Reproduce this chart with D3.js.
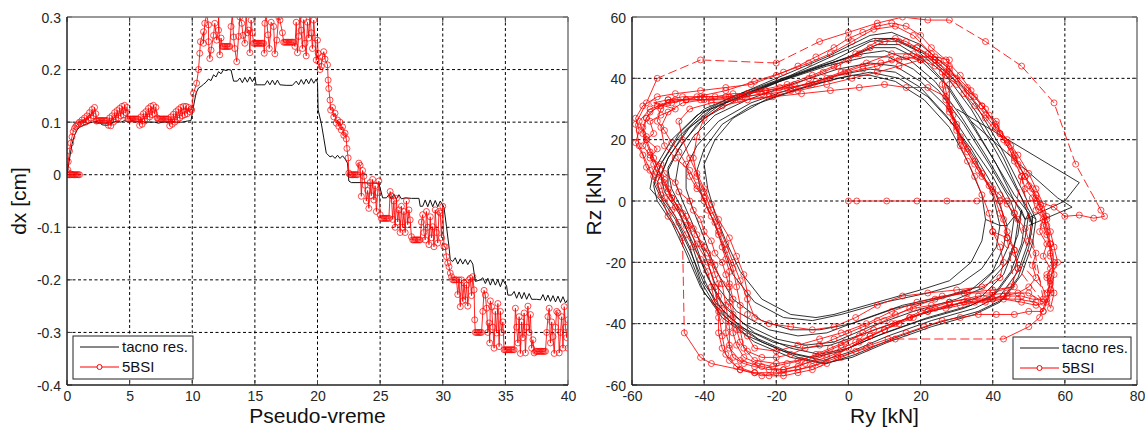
<!DOCTYPE html>
<html><head><meta charset="utf-8">
<script src="https://cdn.jsdelivr.net/npm/d3@7"></script>
<style>
body{margin:0;background:#fff;}
svg{display:block;font-family:"Liberation Sans",Arial,sans-serif;}
</style></head><body>
<svg id="c" width="1145" height="430"></svg>
<script>
// ---------------- DATA ----------------
const seriesNames = ["tacno res.", "5BSI"];
const leftXTicks = [0,5,10,15,20,25,30,35,40];
const leftYTicks = [-0.4,-0.3,-0.2,-0.1,0,0.1,0.2,0.3];
const rightXTicks = [-60,-40,-20,0,20,40,60,80];
const rightYTicks = [-60,-40,-20,0,20,40,60];

// Left panel: tacno res. [pseudo-time, dx]
const tacnoLeft = [[0,0],[0.2,0.03],[0.4,0.058],[0.6,0.075],[0.8,0.085],[1.0,0.09],[1.3,0.094],[1.6,0.097],[2.0,0.1],[2.4,0.101],[2.6,0.099],[2.8,0.095],[3.1,0.094],[3.4,0.095],[3.7,0.1],[4.0,0.102],[4.3,0.1],[4.6,0.103],[4.9,0.1],[5.2,0.103],[5.5,0.1],[5.8,0.102],[6.2,0.1],[6.6,0.1],[7.0,0.1],[7.3,0.098],[7.6,0.1],[8.0,0.1],[8.4,0.101],[8.8,0.1],[9.2,0.1],[9.6,0.102],[9.9,0.103],[10.1,0.13],[10.3,0.155],[10.5,0.165],[10.7,0.168],[10.9,0.172],[11.1,0.176],[11.3,0.182],[11.5,0.179],[11.7,0.19],[11.9,0.186],[12.1,0.196],[12.3,0.192],[12.5,0.2],[12.7,0.198],[12.9,0.2],[13.1,0.199],[13.3,0.178],[13.6,0.178],[13.8,0.184],[14.0,0.175],[14.2,0.185],[14.4,0.176],[14.6,0.186],[14.8,0.177],[15.0,0.186],[15.1,0.171],[15.5,0.171],[15.8,0.171],[16.0,0.179],[16.2,0.171],[16.4,0.18],[16.6,0.171],[16.8,0.18],[17.0,0.171],[17.5,0.17],[18.0,0.17],[18.3,0.178],[18.5,0.171],[18.7,0.181],[18.9,0.172],[19.1,0.182],[19.3,0.173],[19.5,0.183],[19.7,0.174],[19.9,0.182],[20.0,0.175],[20.05,0.123],[20.3,0.098],[20.5,0.07],[20.7,0.041],[21.0,0.034],[21.2,0.036],[21.4,0.031],[21.6,0.037],[21.8,0.031],[22.0,0.036],[22.2,0.03],[22.4,0.022],[22.5,-0.012],[22.7,-0.015],[23.5,-0.015],[24.2,-0.016],[24.9,-0.016],[25.2,-0.044],[25.5,-0.044],[25.7,-0.038],[25.9,-0.046],[26.1,-0.037],[26.3,-0.046],[26.5,-0.038],[26.7,-0.046],[27.0,-0.044],[27.5,-0.045],[28.1,-0.045],[28.2,-0.06],[28.4,-0.06],[28.6,-0.048],[28.8,-0.061],[29.0,-0.048],[29.2,-0.061],[29.4,-0.049],[29.6,-0.061],[29.8,-0.05],[30.0,-0.058],[30.1,-0.062],[30.3,-0.099],[30.5,-0.137],[30.6,-0.162],[30.8,-0.165],[31.0,-0.158],[31.2,-0.17],[31.4,-0.16],[31.6,-0.17],[31.8,-0.161],[32.0,-0.171],[32.2,-0.162],[32.4,-0.17],[32.6,-0.203],[33.0,-0.2],[33.2,-0.196],[33.4,-0.207],[33.6,-0.197],[33.8,-0.21],[34.0,-0.198],[34.2,-0.21],[34.4,-0.2],[34.6,-0.213],[34.8,-0.2],[35.1,-0.212],[35.2,-0.229],[35.5,-0.229],[35.7,-0.222],[35.9,-0.235],[36.1,-0.223],[36.3,-0.236],[36.5,-0.224],[36.7,-0.237],[36.9,-0.226],[37.1,-0.237],[37.5,-0.237],[37.8,-0.238],[38.0,-0.228],[38.2,-0.24],[38.4,-0.229],[38.6,-0.241],[38.8,-0.23],[39.0,-0.242],[39.2,-0.231],[39.4,-0.243],[39.6,-0.232],[39.8,-0.244],[40.0,-0.237]];

// Left panel: 5BSI [pseudo-time, dx], in four load phases
const bsiPhase1 = [[0,0],[0.1,0],[0.2,0],[0.3,0],[0.4,0],[0.5,0],[0.6,0],[0.7,0],[0.8,0],[0.9,0],[1.0,0],[0.05,0.01],[0.1,0.025],[0.2,0.045],[0.3,0.06],[0.4,0.072],[0.5,0.082],[0.6,0.088],[0.7,0.092],[0.8,0.094],[0.9,0.097],[1.0,0.1],[1.1,0.097],[1.2,0.104],[1.3,0.099],[1.4,0.108],[1.5,0.1],[1.6,0.112],[1.7,0.104],[1.8,0.118],[1.9,0.108],[2.0,0.124],[2.1,0.112],[2.2,0.128],[2.3,0.116],[2.35,0.102],[2.4,0.103],[2.5,0.103],[2.6,0.103],[2.7,0.103],[2.8,0.103],[2.9,0.103],[3.0,0.103],[3.1,0.103],[3.2,0.103],[3.3,0.094],[3.4,0.108],[3.5,0.093],[3.6,0.112],[3.7,0.1],[3.8,0.118],[3.9,0.104],[4.0,0.122],[4.1,0.108],[4.2,0.126],[4.3,0.112],[4.4,0.13],[4.5,0.114],[4.6,0.132],[4.7,0.118],[4.8,0.128],[4.85,0.106],[4.9,0.106],[5.0,0.106],[5.1,0.106],[5.2,0.106],[5.3,0.106],[5.4,0.106],[5.5,0.106],[5.6,0.106],[5.7,0.106],[5.8,0.094],[5.9,0.11],[6.0,0.096],[6.1,0.116],[6.2,0.102],[6.3,0.12],[6.4,0.106],[6.5,0.126],[6.6,0.11],[6.7,0.13],[6.8,0.114],[6.9,0.132],[7.0,0.116],[7.1,0.128],[7.2,0.108],[7.3,0.106],[7.4,0.106],[7.5,0.106],[7.6,0.106],[7.7,0.106],[7.8,0.106],[7.9,0.106],[8.0,0.106],[8.1,0.106],[8.2,0.093],[8.3,0.11],[8.4,0.096],[8.5,0.115],[8.6,0.1],[8.7,0.12],[8.8,0.104],[8.9,0.124],[9.0,0.108],[9.1,0.128],[9.2,0.112],[9.3,0.13],[9.4,0.114],[9.5,0.13],[9.6,0.116],[9.7,0.128],[9.8,0.12],[9.9,0.125],[9.95,0.123],[10.1,0.155],[10.35,0.174],[10.5,0.2],[10.6,0.231],[10.65,0.253]];
const bsiPhase2 = [[10.9,0.272],[10.9,0.25],[11.0,0.288],[11.15,0.305],[11.3,0.285],[11.3,0.253],[11.4,0.221],[11.5,0.237],[11.7,0.265],[11.8,0.288],[11.95,0.256],[12.1,0.275],[12.1,0.305],[12.2,0.228],[12.3,0.26],[12.4,0.244],[12.5,0.244],[12.6,0.244],[12.7,0.244],[12.8,0.244],[12.9,0.244],[13.0,0.244],[13.1,0.282],[13.2,0.305],[13.3,0.262],[13.4,0.24],[13.55,0.215],[13.7,0.263],[13.8,0.3],[13.95,0.288],[14.05,0.265],[14.2,0.25],[14.3,0.305],[14.4,0.27],[14.5,0.275],[14.6,0.232],[14.7,0.294],[14.8,0.27],[14.9,0.25],[15.0,0.25],[15.1,0.25],[15.2,0.25],[15.3,0.25],[15.4,0.25],[15.5,0.25],[15.6,0.25],[15.7,0.25],[15.75,0.231],[15.8,0.288],[15.9,0.305],[16.05,0.266],[16.15,0.24],[16.3,0.29],[16.5,0.282],[16.6,0.23],[16.75,0.256],[16.9,0.3],[17.0,0.294],[17.2,0.27],[17.3,0.252],[17.4,0.252],[17.5,0.252],[17.6,0.252],[17.7,0.252],[17.8,0.252],[17.9,0.252],[18.0,0.252],[18.1,0.252],[18.2,0.244],[18.3,0.29],[18.4,0.232],[18.5,0.263],[18.6,0.305],[18.7,0.275],[18.8,0.24],[18.9,0.295],[19.0,0.25],[19.1,0.226],[19.2,0.29],[19.3,0.26],[19.4,0.305],[19.5,0.27],[19.6,0.24],[19.7,0.294],[19.8,0.26],[19.9,0.218],[20.0,0.256]];
const bsiPhase3 = [[20.05,0.231],[20.1,0.215],[20.2,0.2],[20.3,0.206],[20.4,0.225],[20.5,0.234],[20.6,0.22],[20.8,0.209],[20.85,0.18],[20.9,0.164],[21.0,0.142],[21.05,0.123],[21.2,0.128],[21.3,0.11],[21.4,0.117],[21.5,0.098],[21.6,0.104],[21.7,0.092],[21.8,0.1],[21.9,0.085],[22.0,0.091],[22.1,0.075],[22.2,0.079],[22.3,0.068],[22.35,0.05],[22.45,0.032],[22.5,0.003],[22.6,0],[22.7,0],[22.8,0],[22.9,0],[23.0,0],[23.1,0],[23.2,0],[23.3,0.022],[23.4,0.018],[23.5,-0.041],[23.6,0.008],[23.7,-0.003],[23.8,-0.02],[23.9,-0.05],[24.0,-0.03],[24.1,-0.064],[24.2,-0.015],[24.3,-0.04],[24.4,-0.009],[24.5,-0.048],[24.6,-0.021],[24.7,-0.07],[24.8,-0.034],[24.9,-0.012],[25.0,-0.076],[25.1,-0.083],[25.2,-0.083],[25.3,-0.083],[25.4,-0.083],[25.5,-0.083],[25.6,-0.083],[25.7,-0.083],[25.8,-0.032],[25.9,-0.04],[26.0,-0.085],[26.1,-0.05],[26.2,-0.1],[26.3,-0.045],[26.4,-0.09],[26.5,-0.067],[26.6,-0.11],[26.7,-0.06],[26.8,-0.1],[26.9,-0.07],[27.0,-0.11],[27.1,-0.05],[27.2,-0.095],[27.3,-0.067],[27.4,-0.086],[27.5,-0.118],[27.6,-0.124],[27.7,-0.124],[27.8,-0.124],[27.9,-0.124],[28.0,-0.124],[28.1,-0.124],[28.2,-0.124],[28.3,-0.09],[28.4,-0.076],[28.5,-0.11],[28.6,-0.124],[28.7,-0.07],[28.8,-0.1],[28.9,-0.133],[29.0,-0.08],[29.1,-0.12],[29.2,-0.099],[29.3,-0.137],[29.4,-0.067],[29.5,-0.11],[29.6,-0.13],[29.7,-0.07],[29.8,-0.073],[29.9,-0.12],[30.0,-0.06]];
const bsiPhase4 = [[30.1,-0.137],[30.2,-0.137],[30.3,-0.156],[30.4,-0.168],[30.5,-0.175],[30.6,-0.187],[30.7,-0.194],[30.8,-0.2],[30.9,-0.2],[31.0,-0.2],[31.1,-0.2],[31.2,-0.228],[31.3,-0.2],[31.4,-0.251],[31.5,-0.2],[31.6,-0.24],[31.7,-0.206],[31.8,-0.238],[31.9,-0.21],[32.0,-0.25],[32.1,-0.2],[32.2,-0.197],[32.3,-0.23],[32.4,-0.194],[32.5,-0.219],[32.55,-0.276],[32.6,-0.3],[32.7,-0.3],[32.8,-0.3],[32.9,-0.3],[33.0,-0.3],[33.1,-0.3],[33.2,-0.26],[33.3,-0.22],[33.4,-0.229],[33.5,-0.254],[33.6,-0.3],[33.7,-0.282],[33.75,-0.32],[33.8,-0.24],[33.9,-0.251],[34.0,-0.29],[34.1,-0.33],[34.2,-0.26],[34.3,-0.301],[34.4,-0.245],[34.5,-0.327],[34.6,-0.26],[34.7,-0.3],[34.8,-0.28],[34.9,-0.333],[35.0,-0.333],[35.1,-0.333],[35.2,-0.333],[35.3,-0.333],[35.4,-0.333],[35.5,-0.333],[35.6,-0.333],[35.7,-0.333],[35.8,-0.254],[35.9,-0.29],[36.0,-0.32],[36.1,-0.27],[36.2,-0.34],[36.3,-0.28],[36.4,-0.31],[36.5,-0.263],[36.6,-0.339],[36.7,-0.29],[36.8,-0.25],[36.9,-0.3],[37.0,-0.266],[37.1,-0.33],[37.2,-0.314],[37.3,-0.339],[37.4,-0.336],[37.5,-0.336],[37.6,-0.336],[37.7,-0.336],[37.8,-0.336],[37.9,-0.336],[38.0,-0.336],[38.1,-0.336],[38.2,-0.336],[38.3,-0.3],[38.4,-0.27],[38.5,-0.254],[38.6,-0.32],[38.7,-0.28],[38.8,-0.308],[38.9,-0.34],[39.0,-0.29],[39.1,-0.26],[39.2,-0.263],[39.3,-0.339],[39.4,-0.3],[39.5,-0.27],[39.6,-0.33],[39.7,-0.251],[39.8,-0.29],[39.9,-0.31],[40.0,-0.276],[40.0,-0.33]];

// Right panel: tacno res. hysteresis loops [Ry, Rz]
const tacnoLoopA = [[52,-6],[51,-14],[48,-24],[43,-32],[36,-36],[24,-40],[12,-45],[2,-50],[-6,-53],[-14,-51],[-24,-46],[-33,-39],[-40,-30],[-44,-18],[-48,-8],[-52,0],[-55,4],[-54,10],[-49,20],[-42,28],[-34,33],[-20,40],[-6,47],[6,54],[12,55],[20,51],[28,43],[35,32],[42,18],[48,4],[52,-6]];
const tacnoLoopB = [[51,-5],[50,-13],[47,-23],[42,-31],[35,-35],[23,-39],[11,-44],[1,-49],[-7,-52],[-15,-50],[-25,-45],[-34,-37],[-40,-27],[-44,-16],[-48,-6],[-52,1],[-54,6],[-52,12],[-47,21],[-40,29],[-31,34],[-18,40],[-4,46],[6,52],[12,53],[19,49],[27,41],[34,30],[41,16],[47,3],[51,-5]];
const tacnoLoopC = [[50,-4],[49,-12],[46,-22],[41,-30],[34,-34],[22,-38],[10,-43],[0,-48],[-8,-50],[-16,-48],[-26,-43],[-34,-35],[-39,-25],[-43,-14],[-47,-4],[-51,3],[-52,8],[-50,14],[-45,23],[-38,30],[-28,35],[-15,41],[-2,46],[7,50],[13,50],[20,46],[27,38],[33,27],[40,14],[46,2],[50,-4]];
const tacnoLoopD = [[49,-6],[48,-14],[45,-23],[40,-31],[32,-35],[20,-39],[8,-44],[-2,-49],[-10,-51],[-18,-49],[-28,-44],[-36,-36],[-41,-26],[-44,-15],[-48,-5],[-52,2],[-53,6],[-50,14],[-44,24],[-36,31],[-26,36],[-12,42],[0,47],[8,51],[14,51],[21,46],[28,37],[34,26],[41,12],[46,0],[49,-6]];
const tacnoLoopI = [[51,-8],[50,-15],[47,-25],[42,-33],[35,-37],[23,-41],[11,-46],[1,-51],[-7,-53],[-16,-51],[-26,-46],[-35,-38],[-41,-28],[-45,-17],[-49,-7],[-53,0],[-54,5],[-52,12],[-47,22],[-40,30],[-30,35],[-16,41],[-3,48],[7,53],[13,53],[21,48],[29,40],[36,28],[43,14],[48,1],[51,-8]];
const tacnoLoopE = [[48,-3],[47,-11],[44,-20],[38,-28],[30,-32],[18,-36],[6,-41],[-4,-46],[-12,-47],[-20,-45],[-29,-40],[-36,-32],[-40,-22],[-43,-12],[-46,-3],[-49,4],[-50,10],[-47,17],[-42,25],[-34,32],[-22,38],[-8,44],[4,48],[10,49],[17,46],[24,39],[31,28],[38,15],[44,3],[48,-3]];
const tacnoLoopJ = [[47,-7],[46,-15],[43,-24],[37,-31],[29,-34],[17,-38],[5,-43],[-5,-47],[-13,-48],[-21,-46],[-30,-41],[-37,-33],[-41,-23],[-44,-12],[-47,-3],[-50,4],[-50,11],[-46,19],[-40,27],[-31,33],[-19,39],[-6,44],[5,47],[11,47],[18,43],[25,36],[32,25],[39,12],[45,0],[47,-7]];
const tacnoLoopF = [[46,-5],[45,-13],[42,-21],[36,-28],[27,-31],[15,-34],[3,-39],[-6,-43],[-14,-44],[-22,-42],[-31,-36],[-37,-27],[-40,-17],[-43,-8],[-46,0],[-48,6],[-47,13],[-43,21],[-37,28],[-28,33],[-16,38],[-3,43],[6,45],[13,44],[20,39],[27,31],[33,20],[40,8],[46,-5]];
const tacnoLoopK = [[44,-8],[43,-15],[40,-23],[34,-29],[25,-32],[13,-35],[1,-40],[-8,-42],[-16,-42],[-24,-39],[-32,-32],[-37,-22],[-40,-12],[-43,-3],[-45,4],[-45,11],[-42,18],[-36,26],[-27,32],[-15,37],[-3,41],[6,43],[13,42],[20,37],[27,28],[34,17],[40,5],[44,-8]];
const tacnoLoopG = [[42,-8],[41,-15],[37,-22],[31,-27],[22,-30],[10,-33],[-2,-37],[-10,-39],[-18,-38],[-26,-33],[-32,-24],[-35,-14],[-38,-5],[-41,3],[-42,10],[-40,17],[-35,25],[-27,31],[-15,36],[-3,40],[6,42],[14,40],[22,34],[29,25],[35,14],[40,2],[42,-8]];
const tacnoLoopH = [[38,-6],[37,-13],[34,-20],[28,-26],[20,-29],[8,-33],[-4,-37],[-9,-38],[-16,-37],[-24,-32],[-30,-23],[-34,-13],[-37,-4],[-39,4],[-40,12],[-37,20],[-32,27],[-23,33],[-10,38],[1,41],[6,41],[13,39],[21,33],[28,24],[33,13],[37,2],[38,-6]];
const tacnoOvershoot1 = [[30,30],[64,6],[60,0],[49,-6]];
const tacnoOvershoot2 = [[34,26],[58,1],[62,-2],[50,-8]];

// Right panel: 5BSI loops [Ry, Rz]
const bsiLoop1 = [[0,0],[2.3,0],[10.6,0],[19,0],[27.3,0],[35.6,0],[43.9,0],[52.2,0],[57,-2],[60,-5],[64,-4.6],[68,-5.6],[71,-5],[70,-3],[63,12],[57,32],[48,44],[38,52],[28,59],[22,59],[15,60],[8,58],[0,55],[-8,52],[-20,45],[-41,46],[-53,40],[-56,32],[-59,25],[-58,18],[-55,10],[-52,2],[-50,-5],[-46,-12],[-45.5,-43],[-41,-51],[-38,-53],[-30,-55],[-24,-57],[-18,-56],[-10,-54],[-3,-51],[5,-48],[13,-45],[43,-45],[50,-41],[53,-38]];
const bsiLoop2 = [[55,-32],[56,-26],[57,-20],[56,-14],[55,-8],[53,-2],[51,4],[48,10],[45,18],[41,25],[37,31],[33,37],[28,43],[23,48],[18,54],[13,57],[7,56],[1,52],[-5,48],[-11,45],[-18,42],[-26,39],[-34,36],[-42,34],[-50,32],[-55,30],[-58,26],[-56,20],[-54,14],[-52,8],[-50,3],[-48,-2],[-45,-8],[-42,-14],[-39,-20],[-37,-28],[-36,-36],[-35,-44],[-34,-50],[-31,-54],[-26,-56],[-20,-56],[-14,-55],[-8,-53],[-3,-50],[3,-46],[10,-42],[17,-38],[24,-35],[32,-33],[40,-32],[47,-32],[52,-33],[54,-36]];
const bsiLoop3 = [[56,-30],[57,-24],[56,-17],[55,-10],[54,-4],[52,2],[49,8],[46,14],[42,22],[38,28],[34,34],[29,40],[24,46],[19,50],[14,52],[8,52],[2,48],[-4,44],[-10,41],[-17,38],[-25,36],[-33,34],[-41,33],[-48,33],[-53,31],[-56,27],[-57,22],[-55,16],[-53,11],[-51,6],[-49,1],[-46,-4],[-43,-9],[-40,-15],[-37,-21],[-35,-27],[-34,-34],[-33,-41],[-33,-48],[-30,-52],[-24,-54],[-18,-55],[-12,-53],[-6,-51],[0,-48],[6,-44],[13,-40],[20,-36],[28,-33],[36,-31],[44,-30],[50,-30],[54,-33]];
const bsiLoop4 = [[47,-22],[46,-16],[44,-10],[42,-4],[40,3],[37,8],[35,12],[32,18],[30,24],[28,30],[27,36],[26,42],[24,46],[18,48],[12,48],[5,45],[-2,42],[-9,39],[-16,37],[-24,35],[-32,33],[-40,33],[-46,32],[-50,29],[-52,24],[-51,18],[-48,14],[-44,10],[-42,5],[-40,0],[-38,-5],[-36,-10],[-34,-16],[-32,-22],[-31,-28],[-30,-34],[-30,-42],[-29,-48],[-26,-52],[-20,-53],[-14,-52],[-8,-50],[-2,-47],[4,-43],[10,-39],[17,-35],[24,-32],[32,-30],[40,-29],[46,-28]];
const bsiLoop5 = [[44,-12],[43,-6],[42,0],[40,4],[36,10],[33,16],[31,20],[29,26],[28,31],[28,38],[28,44],[25,46],[20,46],[14,44],[8,42],[1,40],[-6,38],[-14,36],[-22,34],[-30,33],[-38,32],[-44,30],[-47,26],[-46,20],[-44,14],[-42,9],[-40,4],[-38,-1],[-36,-6],[-33,-12],[-31,-18],[-29,-24],[-28,-30],[-28,-37],[-28,-44],[-26,-48],[-20,-49],[-14,-47],[-8,-45],[-2,-43],[5,-40],[12,-36],[19,-33],[26,-31],[33,-30],[40,-30],[45,-28],[47,-22],[46,-16],[44,-12]];
const bsiLoop6 = [[40,-10],[39,-4],[37,2],[35,8],[33,13],[31,18],[30,23],[29,28],[27,34],[22,37],[16,37],[10,38],[3,37],[-5,36],[-13,35],[-21,34],[-28,33],[-35,31],[-40,27],[-42,21],[-43,14],[-42,8],[-40,3],[-38,-3],[-36,-8],[-34,-14],[-32,-20],[-30,-26],[-28,-32],[-26,-38],[-22,-40],[-16,-41],[-10,-42],[-4,-41],[2,-38],[8,-34],[15,-31],[22,-30],[30,-29],[37,-28],[42,-25],[43,-20],[42,-15],[40,-10]];
const bsiLoop7 = [[55,-30],[56,-27],[55,-24],[57,-21],[56,-18],[56,-14],[55,-11],[54,-8],[55,-5],[53,-2],[52,1],[50,5],[49,8],[47,12],[46,15],[44,19],[42,22],[41,26],[39,28],[37,31],[35,34],[33,36],[30,40],[28,42],[25,45],[22,48],[19,50],[16,52],[13,53],[10,52],[6,50],[3,48],[0,46],[-3,44],[-7,42],[-11,40],[-15,38],[-19,37],[-23,36],[-28,35],[-32,35],[-37,34],[-41,34],[-45,33],[-49,32],[-52,31],[-55,29],[-56,27],[-57,24],[-56,21],[-57,18],[-55,15],[-54,12],[-53,9],[-51,7],[-50,4],[-49,1],[-47,-2],[-45,-5],[-44,-8],[-42,-11],[-41,-14],[-39,-17],[-38,-20],[-37,-24],[-36,-27],[-36,-31],[-35,-35],[-34,-39],[-34,-43],[-33,-47],[-32,-51],[-29,-53],[-26,-54],[-22,-55],[-18,-55],[-14,-54],[-10,-52],[-6,-50],[-2,-48],[2,-46],[6,-44],[10,-42],[14,-40],[18,-38],[22,-36],[27,-35],[31,-34],[35,-33],[40,-32],[44,-31],[48,-31],[51,-32],[54,-32]];
const bsiLoop8 = [[48,8],[46,13],[45,16],[43,20],[40,24],[38,27],[35,31],[32,35],[30,38],[27,41],[24,44],[20,46],[16,47],[12,46],[8,44],[4,43],[0,42],[-5,40],[-10,38],[-16,36],[-22,35],[-30,34],[-38,33],[-45,33],[-50,33],[-54,32],[-48,30],[-52,28],[-55,26],[-54,22],[-56,20],[-53,17],[-55,14],[-52,12],[-51,9],[-48,6],[-47,3],[-44,0],[-43,-3],[-41,-6],[-40,-10],[-38,-13],[-37,-17],[-35,-20],[-34,-24],[-33,-28],[-33,-33],[-32,-38],[-32,-43],[-31,-47],[-29,-51],[-25,-53],[-21,-54],[-17,-53],[-13,-52],[-9,-50],[-5,-48],[-1,-46],[3,-44],[7,-42],[12,-40],[17,-38],[22,-36],[28,-34],[33,-33],[38,-33],[43,-32],[48,-33],[52,-34],[55,-33],[56,-29],[55,-25],[56,-22],[54,-18],[55,-14],[53,-10],[54,-6],[52,-3],[51,1],[49,4],[48,8]];
const bsiLoop9 = [[46,-4],[44,-1],[42,2],[39,5],[37,9],[35,13],[33,17],[31,21],[30,25],[28,29],[27,33],[26,38],[27,42],[28,46],[24,47],[19,47],[14,46],[9,45],[4,44],[-1,42],[-6,40],[-11,38],[-17,37],[-23,36],[-28,35],[-34,34],[-40,34],[-46,34],[-50,33],[-52,30],[-53,26],[-51,23],[-49,19],[-47,16],[-45,12],[-44,8],[-42,4],[-40,1],[-39,-3],[-37,-7],[-36,-11],[-35,-15],[-34,-19],[-33,-23],[-33,-27],[-32,-32],[-32,-37],[-31,-42],[-30,-46],[-28,-49],[-24,-51],[-20,-51],[-16,-50],[-12,-48],[-8,-47],[-4,-45],[0,-43],[4,-41],[8,-39],[13,-37],[18,-35],[23,-34],[28,-33],[33,-32],[38,-32],[43,-31],[47,-30],[50,-28],[52,-25],[51,-21],[52,-17],[50,-13],[49,-9],[47,-6],[46,-4]];
const bsiLoop10 = [[56,-35],[57,-30],[56,-25],[58,-20],[57,-15],[56,-10],[55,-6],[54,-1],[52,4],[50,9],[47,15],[44,20],[41,24],[38,30],[34,36],[31,41],[27,46],[23,50],[20,54],[16,57],[12,58],[8,57],[4,55],[0,53],[-4,50],[-9,47],[-14,44],[-20,41],[-27,38],[-34,37],[-41,36],[-48,35],[-53,34],[-57,31],[-59,27],[-58,23],[-59,19],[-57,15],[-56,11],[-54,8],[-52,5],[-51,1],[-49,-3],[-47,-7],[-45,-11],[-43,-15],[-41,-19],[-39,-23],[-38,-28],[-37,-33],[-36,-38],[-36,-43],[-35,-48],[-33,-52],[-30,-55],[-26,-56],[-22,-57],[-18,-57],[-14,-56],[-10,-55],[-6,-53],[-2,-51],[2,-49],[6,-47],[11,-45],[16,-43],[21,-41],[26,-39],[31,-38],[36,-37],[41,-37],[46,-37],[50,-36],[54,-36]];

// ---------------- DRAWING ----------------
const svg = d3.select('#c');
const defs = svg.append('defs');
const RED = '#ff0000';

function drawPanel(id, box, x, y, xt, yt, fmt, xlabel, ylabel, ylabelX) {
  const g = svg.append('g');
  defs.append('clipPath').attr('id', id).append('rect')
    .attr('x', box.x0).attr('y', box.y0).attr('width', box.x1 - box.x0).attr('height', box.y1 - box.y0);
  g.selectAll('line.gx').data(xt.slice(1, -1)).join('line')
    .attr('x1', d => x(d)).attr('x2', d => x(d)).attr('y1', box.y0).attr('y2', box.y1)
    .attr('stroke', '#000').attr('stroke-width', 1).attr('stroke-dasharray', '3,2.5');
  g.selectAll('line.gy').data(yt.slice(1, -1)).join('line')
    .attr('y1', d => y(d)).attr('y2', d => y(d)).attr('x1', box.x0).attr('x2', box.x1)
    .attr('stroke', '#000').attr('stroke-width', 1).attr('stroke-dasharray', '3,2.5');
  const ax = svg.append('g').attr('transform', `translate(0,${box.y1})`)
    .call(d3.axisBottom(x).tickValues(xt).tickSize(0).tickPadding(6).tickFormat(fmt));
  const ay = svg.append('g').attr('transform', `translate(${box.x0},0)`)
    .call(d3.axisLeft(y).tickValues(yt).tickSize(0).tickPadding(6).tickFormat(fmt));
  [ax, ay].forEach(a => {
    a.select('.domain').remove();
    a.selectAll('text').attr('font-size', 14).attr('fill', '#262626')
      .attr('font-family', '"Liberation Sans",Arial,sans-serif');
  });
  ay.selectAll('text').attr('dy', '0.36em');
  const tl = 5;
  const tg = svg.append('g').attr('stroke', '#444').attr('stroke-width', 1);
  xt.forEach(v => {
    tg.append('line').attr('x1', x(v)).attr('x2', x(v)).attr('y1', box.y1).attr('y2', box.y1 - tl);
    tg.append('line').attr('x1', x(v)).attr('x2', x(v)).attr('y1', box.y0).attr('y2', box.y0 + tl);
  });
  yt.forEach(v => {
    tg.append('line').attr('y1', y(v)).attr('y2', y(v)).attr('x1', box.x0).attr('x2', box.x0 + tl);
    tg.append('line').attr('y1', y(v)).attr('y2', y(v)).attr('x1', box.x1).attr('x2', box.x1 - tl);
  });
  svg.append('text').attr('x', (box.x0 + box.x1) / 2).attr('y', 423)
    .attr('text-anchor', 'middle').attr('font-size', 21).attr('fill', '#111').text(xlabel);
  svg.append('text').attr('transform', `translate(${ylabelX},${(box.y0 + box.y1) / 2}) rotate(-90)`)
    .attr('text-anchor', 'middle').attr('font-size', 21).attr('fill', '#111').text(ylabel);
  return g;
}

function drawFrame(box) {
  const f = svg.append('g').attr('fill', 'none');
  f.append('line').attr('x1', box.x0).attr('x2', box.x1).attr('y1', box.y0).attr('y2', box.y0).attr('stroke', '#777').attr('stroke-width', 1.5);
  f.append('line').attr('x1', box.x1).attr('x2', box.x1).attr('y1', box.y0).attr('y2', box.y1).attr('stroke', '#777').attr('stroke-width', 1.5);
  f.append('line').attr('x1', box.x0).attr('x2', box.x1).attr('y1', box.y1).attr('y2', box.y1).attr('stroke', '#222').attr('stroke-width', 1.5);
  f.append('line').attr('x1', box.x0).attr('x2', box.x0).attr('y1', box.y0).attr('y2', box.y1).attr('stroke', '#222').attr('stroke-width', 1.5);
}

function drawRedSeries(g, pts, x, y, dashThreshold) {
  let solid = '', dashed = '';
  for (let i = 1; i < pts.length; i++) {
    const a = pts[i - 1], b = pts[i];
    const ax = x(a[0]), ay = y(a[1]), bx = x(b[0]), by = y(b[1]);
    const seg = `M${ax},${ay}L${bx},${by}`;
    if (dashThreshold && Math.hypot(bx - ax, by - ay) > dashThreshold) dashed += seg; else solid += seg;
  }
  g.append('path').attr('d', solid).attr('fill', 'none').attr('stroke', RED).attr('stroke-width', 1).attr('stroke-opacity', 0.85);
  if (dashed) g.append('path').attr('d', dashed).attr('fill', 'none').attr('stroke', RED).attr('stroke-width', 1).attr('stroke-opacity', 0.85).attr('stroke-dasharray', '9,4');
  g.append('g').selectAll('circle').data(pts).join('circle')
    .attr('cx', d => x(d[0])).attr('cy', d => y(d[1])).attr('r', 3)
    .attr('fill', 'none').attr('stroke', RED).attr('stroke-width', 1).attr('stroke-opacity', 0.7);
}

function legend(x0, y0, w, h) {
  const g = svg.append('g');
  g.append('rect').attr('x', x0).attr('y', y0).attr('width', w).attr('height', h)
    .attr('fill', '#fff').attr('stroke', '#222').attr('stroke-width', 1);
  const r1 = y0 + 11, r2 = y0 + 31;
  g.append('line').attr('x1', x0 + 7).attr('x2', x0 + 46).attr('y1', r1).attr('y2', r1).attr('stroke', '#111').attr('stroke-width', 1);
  g.append('line').attr('x1', x0 + 7).attr('x2', x0 + 46).attr('y1', r2).attr('y2', r2).attr('stroke', RED).attr('stroke-width', 1);
  g.append('circle').attr('cx', x0 + 26.5).attr('cy', r2).attr('r', 2.5).attr('fill', '#fff').attr('stroke', RED).attr('stroke-width', 1);
  g.append('text').attr('x', x0 + 49).attr('y', r1 + 5).attr('font-size', 15).attr('fill', '#111').text(seriesNames[0]);
  g.append('text').attr('x', x0 + 49).attr('y', r2 + 5).attr('font-size', 15).attr('fill', '#111').text(seriesNames[1]);
}

// Left panel
const L = {x0: 67, x1: 568, y0: 17, y1: 385};
const xL = d3.scaleLinear().domain([0, 40]).range([L.x0, L.x1]);
const yL = d3.scaleLinear().domain([-0.4, 0.3]).range([L.y1, L.y0]);
drawPanel('clipL', L, xL, yL, leftXTicks, leftYTicks, d => String(+(+d).toFixed(1)), 'Pseudo-vreme', 'dx [cm]', 26);
const gL = svg.append('g').attr('clip-path', 'url(#clipL)');
gL.append('path').datum(tacnoLeft).attr('d', d3.line().x(d => xL(d[0])).y(d => yL(d[1])))
  .attr('fill', 'none').attr('stroke', '#111').attr('stroke-width', 1);
drawRedSeries(gL, bsiPhase1.concat(bsiPhase2, bsiPhase3, bsiPhase4), xL, yL, 0);
drawFrame(L);
legend(73, 336, 120, 43);

// Right panel
const R = {x0: 632, x1: 1137, y0: 17, y1: 385};
const xR = d3.scaleLinear().domain([-60, 80]).range([R.x0, R.x1]);
const yR = d3.scaleLinear().domain([-60, 60]).range([R.y1, R.y0]);
drawPanel('clipR', R, xR, yR, rightXTicks, rightYTicks, d => String(d), 'Ry [kN]', 'Rz [kN]', 601);
const gR = svg.append('g').attr('clip-path', 'url(#clipR)');
const lineR = d3.line().x(d => xR(d[0])).y(d => yR(d[1]));
const blackPath = tacnoLoopA.concat(tacnoLoopB, tacnoLoopI, tacnoLoopC, tacnoLoopD, tacnoLoopE, tacnoLoopJ, tacnoLoopF, tacnoLoopK, tacnoLoopG, tacnoLoopH);
gR.append('path').datum(blackPath).attr('d', lineR).attr('fill', 'none').attr('stroke', '#111').attr('stroke-width', 1).attr('stroke-opacity', 0.85);
[tacnoOvershoot1, tacnoOvershoot2].forEach(p =>
  gR.append('path').datum(p).attr('d', lineR).attr('fill', 'none').attr('stroke', '#111').attr('stroke-width', 1).attr('stroke-opacity', 0.85));
drawRedSeries(gR, bsiLoop1.concat(bsiLoop2, bsiLoop3, bsiLoop4, bsiLoop5, bsiLoop6, bsiLoop7, bsiLoop8, bsiLoop9, bsiLoop10), xR, yR, 36);
drawFrame(R);
legend(1013, 337, 118, 42);
</script>
</body></html>
